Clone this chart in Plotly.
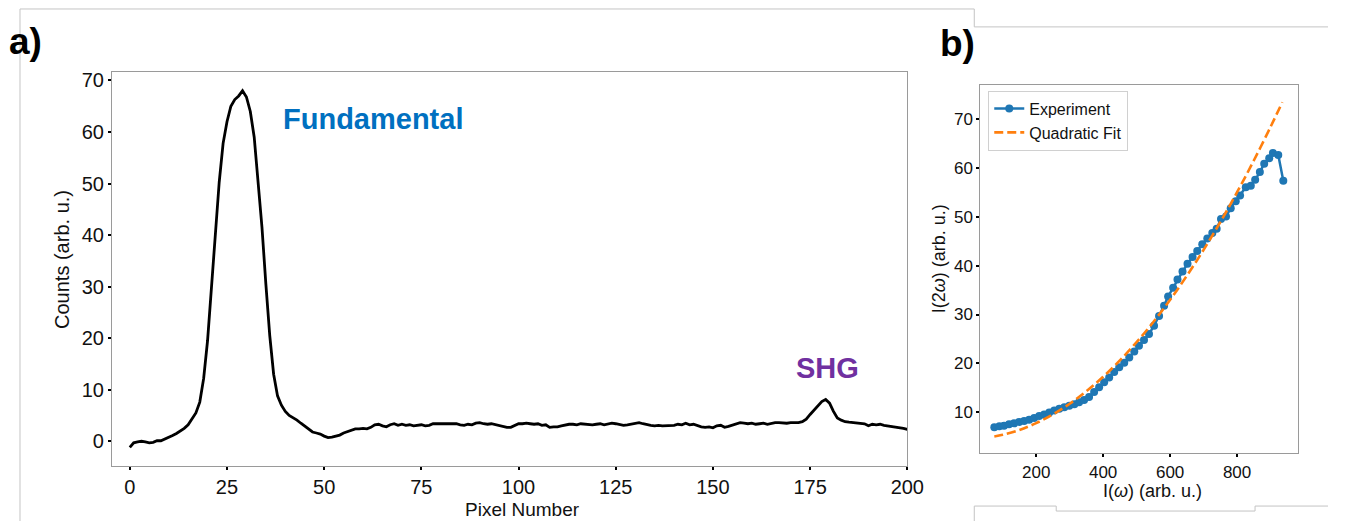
import plotly.graph_objects as go

W, H = 1345, 521
# the page is shown slightly narrower than its nominal width; positions are
# expressed relative to the effective shown width
W_EFF = 1329

# ---------------- Panel a data ----------------
pixel = list(range(0, 201))
counts = [
    -1.2, -0.3, -0.1, 0.0, -0.1, -0.3, -0.2, 0.1, 0.1, 0.4,
    0.8, 1.1, 1.5, 2.0, 2.5, 3.2, 4.3, 5.5, 7.6, 12.2,
    19.5, 29.8, 40.8, 50.3, 57.8, 62.0, 65.0, 66.3, 67.0, 68.0,
    66.8, 64.0, 59.0, 51.0, 41.5, 30.5, 20.5, 13.0, 8.8, 7.0,
    5.8, 5.0, 4.6, 4.1, 3.5, 2.9, 2.3, 1.8, 1.6, 1.4,
    1.0, 0.7, 0.8, 1.0, 1.2, 1.6, 1.9, 2.1, 2.4, 2.4,
    2.5, 2.4, 2.7, 3.2, 3.3, 3.0, 2.8, 3.2, 3.4, 3.1,
    3.3, 3.1, 3.2, 3.0, 3.1, 3.2, 3.0, 3.1, 3.4, 3.4,
    3.3, 3.4, 3.4, 3.3, 3.4, 3.2, 3.1, 3.3, 3.2, 3.5,
    3.6, 3.4, 3.3, 3.4, 3.2, 3.0, 2.8, 2.7, 2.7, 3.1,
    3.4, 3.4, 3.5, 3.4, 3.3, 3.4, 3.1, 3.2, 2.7, 2.8,
    2.8, 3.0, 3.2, 3.3, 3.3, 3.2, 3.4, 3.3, 3.3, 3.2,
    3.3, 3.4, 3.2, 3.3, 3.5, 3.4, 3.2, 3.1, 3.2, 3.3,
    3.5, 3.6, 3.4, 3.2, 3.1, 3.0, 3.1, 3.0, 3.0, 3.1,
    3.1, 3.3, 3.2, 3.5, 3.2, 3.3, 3.0, 2.8, 2.7, 2.8,
    2.6, 3.0, 3.1, 2.7, 2.9, 3.1, 3.3, 3.6, 3.5, 3.4,
    3.5, 3.3, 3.4, 3.5, 3.3, 3.5, 3.6, 3.6, 3.5, 3.5,
    3.6, 3.6, 3.6, 3.8, 4.3, 5.2, 6.1, 7.0, 7.7, 8.1,
    7.4, 5.8, 4.5, 4.1, 3.8, 3.7, 3.6, 3.6, 3.5, 3.4,
    3.0, 3.3, 3.2, 3.3, 3.1, 3.0, 2.8, 2.8, 2.6, 2.5,
    2.3,
]
xticks_a = [0, 25, 50, 75, 100, 125, 150, 175, 200]
yticks_a = [0, 10, 20, 30, 40, 50, 60, 70]

# ---------------- Panel b data ----------------
i_omega = [75, 90, 104, 119, 134, 149, 164, 179, 194, 209, 224, 239, 254, 269, 284,
           299, 314, 328, 343, 358, 373, 388, 403, 418, 433, 448, 463, 478, 493, 507,
           522, 537, 552, 567, 582, 594, 609, 622, 637, 652, 667, 681, 696, 711, 726,
           739, 752, 767, 781, 796, 809, 826, 841, 854, 868, 881, 896, 907, 923, 938]
i_2omega = [6.9, 7.1, 7.2, 7.5, 7.7, 8.0, 8.2, 8.45, 8.8, 9.2, 9.5, 9.9, 10.35, 10.7, 11.0,
            11.3, 11.6, 12.0, 12.5, 13.1, 14.1, 15.1, 16.1, 17.1, 18.2, 19.2, 20.1, 21.2, 22.4, 23.6,
            24.8, 26.0, 27.7, 29.7, 31.8, 33.7, 35.5, 37.2, 38.8, 40.4, 41.8, 43.0, 44.4, 45.6, 46.7,
            47.6, 49.6, 50.1, 51.8, 53.2, 54.4, 56.1, 56.4, 57.6, 59.2, 60.9, 62.0, 63.1, 62.7, 57.4]
fit_x = [75, 100, 150, 200, 250, 300, 350, 400, 450, 500, 550, 600, 650, 700, 750, 800, 850, 900, 935]
fit_y = [5.0, 5.35, 6.35, 7.74, 9.53, 11.71, 14.28, 17.24, 20.59, 24.34, 28.48, 33.01,
         37.94, 43.25, 48.96, 55.07, 61.56, 68.45, 73.5]
xticks_b = [200, 400, 600, 800]
yticks_b = [10, 20, 30, 40, 50, 60, 70]

FONT = "Liberation Sans, Arial, sans-serif"
BLUE = "#1f77b4"
ORANGE = "#ff7f0e"


def px(x):
    return min(x / W_EFF, 1.0)


def py(y):
    return 1 - y / H


fig = go.Figure()

fig.add_trace(go.Scatter(x=pixel, y=counts, mode="lines",
                         line=dict(color="black", width=2.8),
                         xaxis="x", yaxis="y", showlegend=False))

fig.add_trace(go.Scatter(x=i_omega, y=i_2omega, mode="lines+markers", name="Experiment",
                         line=dict(color=BLUE, width=2.5),
                         marker=dict(color=BLUE, size=8),
                         xaxis="x2", yaxis="y2"))
fig.add_trace(go.Scatter(x=fit_x, y=fit_y, mode="lines", name="Quadratic Fit",
                         line=dict(color=ORANGE, width=2.6, dash="9px,4px", shape="spline"),
                         xaxis="x2", yaxis="y2"))

axis_common = dict(showgrid=False, zeroline=False, showline=True, mirror=True,
                   linecolor="#9a9a9a", linewidth=1, ticks="outside", ticklen=3,
                   tickwidth=1.5, tickcolor="black")

fig.update_layout(
    width=W, height=H,
    margin=dict(l=0, r=0, t=0, b=0),
    paper_bgcolor="white", plot_bgcolor="white",
    font=dict(family=FONT, color="black"),
    xaxis=dict(domain=[px(112), px(908)], range=[-4.6, 200], anchor="y",
               tickvals=xticks_a, tickfont=dict(size=20, color="#111"), **axis_common),
    yaxis=dict(domain=[py(466), py(70)], range=[-4.84, 71.7], anchor="x",
               tickvals=yticks_a, tickfont=dict(size=20, color="#111"), **axis_common),
    xaxis2=dict(domain=[px(981), px(1299)], range=[33, 982], anchor="y2",
                tickvals=xticks_b, tickfont=dict(size=17, color="#111"), **axis_common),
    yaxis2=dict(domain=[py(453), py(83)], range=[1.57, 77.1], anchor="x2",
                tickvals=yticks_b, tickfont=dict(size=17, color="#111"), **axis_common),
    legend=dict(x=px(989), y=py(89), xanchor="left", yanchor="top",
                bgcolor="rgba(255,255,255,0.9)", bordercolor="#d0d0d0", borderwidth=1,
                font=dict(family=FONT, size=16, color="#111"),
                itemwidth=30, tracegroupgap=0),
)

annotations = [
    dict(text="<b>a)</b>", x=px(26), y=py(40), font=dict(size=37, color="black")),
    dict(text="<b>b)</b>", x=px(958), y=py(42), font=dict(size=37, color="black")),
    dict(text="<b>Fundamental</b>", x=px(373), y=py(117), font=dict(size=29, color="#0070C0")),
    dict(text="<b>SHG</b>", x=px(828), y=py(367), font=dict(size=29, color="#7030A0")),
    dict(text="Pixel Number", x=px(523), y=py(509), font=dict(size=19, color="#111")),
    dict(text="Counts (arb. u.)", x=px(62), y=py(258), textangle=-90, font=dict(size=20, color="#111")),
    dict(text="I(<i>ω</i>) (arb. u.)", x=px(1153), y=py(491), font=dict(size=18, color="#111")),
    dict(text="I(2<i>ω</i>) (arb. u.)", x=px(940), y=py(258), textangle=-90, font=dict(size=18, color="#111")),
]
for a in annotations:
    a.update(xref="paper", yref="paper", showarrow=False, xanchor="center", yanchor="middle")
    a["font"]["family"] = FONT
fig.update_layout(annotations=annotations)

# thin grey outlines of the composite figure frames
segments = [
    (20, 7, 975, 7), (20, 7, 20, 521), (975, 7, 975, 25), (975, 25, 1338, 25),
    (975, 506, 1057, 506), (1057, 506, 1057, 511), (1057, 511, 1256, 511),
    (1256, 511, 1256, 506), (1256, 506, 1338, 506), (975, 506, 975, 521),
]
shapes = []
for x0, y0, x1, y1 in segments:
    shapes.append(dict(type="line", xref="paper", yref="paper",
                       x0=px(x0), y0=py(y0), x1=px(x1), y1=py(y1),
                       line=dict(color="#c4c4c4", width=1)))
fig.update_layout(shapes=shapes)

fig.write_html("out.html",
               post_script="document.body.style.margin='0';document.body.style.overflow='hidden';")
